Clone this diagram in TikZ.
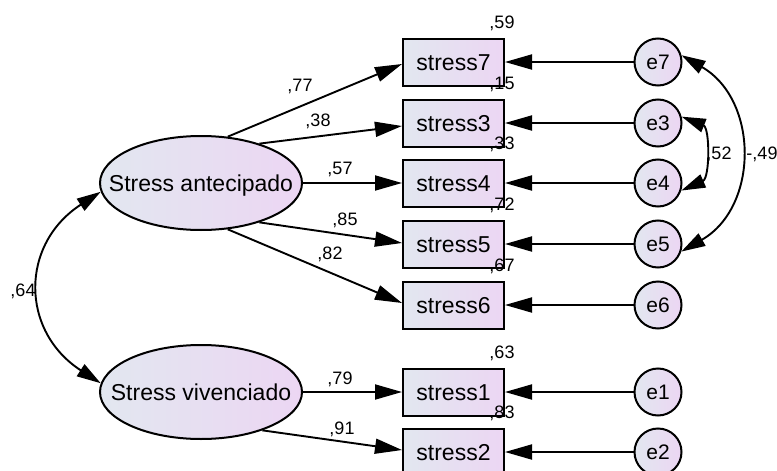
\documentclass[tikz,border=0pt]{standalone}
\usepackage{fontspec}
\setmainfont{Liberation Sans}
\usetikzlibrary{arrows.meta,shapes.geometric,calc}
\definecolor{gA}{RGB}{226,231,240}
\definecolor{gB}{RGB}{236,214,243}
\begin{document}
\begin{tikzpicture}[x=1pt,y=-1pt,
  shadefill/.style={left color=gA, right color=gB},
  lat/.style={ellipse, draw, line width=2pt, minimum width=202pt, minimum height=94pt, inner sep=0pt, shadefill,
    font=\fontsize{23}{27}\selectfont, text height=16.5pt, text depth=0pt},
  obs/.style={rectangle, draw, line width=2pt, minimum width=101pt, minimum height=47pt, inner sep=0pt, shadefill,
    font=\fontsize{23}{27}\selectfont, text height=16.5pt, text depth=0pt},
  err/.style={circle, draw, line width=2pt, minimum size=47pt, inner sep=0pt, shadefill,
    font=\fontsize{21}{25}\selectfont, text height=15pt, text depth=0pt},
  lbl/.style={font=\fontsize{18}{21}\selectfont, inner sep=0pt, text height=13pt, text depth=0pt},
  pth/.style={line width=1.9pt, -{Triangle[length=27pt,width=15pt]}},
  cov/.style={line width=1.9pt, {Triangle[length=24pt,width=14pt]}-{Triangle[length=24pt,width=14pt]}}
]
\useasboundingbox (0,0) rectangle (777,471);

% latent variables
\node[lat] (A) at (201,183) {\makebox[0pt]{Stress antecipado}};
\node[lat] (V) at (201,392) {\makebox[0pt]{Stress vivenciado}};

% observed
\node[obs] (s7) at (453.5,62) {stress7};
\node[obs] (s3) at (453.5,123) {stress3};
\node[obs] (s4) at (453.5,183) {stress4};
\node[obs] (s5) at (453.5,244) {stress5};
\node[obs] (s6) at (453.5,305) {stress6};
\node[obs] (s1) at (453.5,392) {stress1};
\node[obs] (s2) at (453.5,452) {stress2};

% errors
\node[err] (e7) at (658,62) {e7};
\node[err] (e3) at (658,123) {e3};
\node[err] (e4) at (658,183) {e4};
\node[err] (e5) at (658,244) {e5};
\node[err] (e6) at (658,305) {e6};
\node[err] (e1) at (658,392) {e1};
\node[err] (e2) at (658,452) {e2};

% error paths
\foreach \e/\s in {e7/s7,e3/s3,e4/s4,e5/s5,e6/s6,e1/s1,e2/s2}
  \draw[pth] (\e) -- (\s);

% loadings
\draw[pth] (A.60.5) -- ($(s7.west)+(0,2)$);
\draw[pth] (A.34) -- ($(s3.west)+(0,3)$);
\draw[pth] (A.east) -- (s4.west);
\draw[pth] (A.-34) -- ($(s5.west)+(0,-1)$);
\draw[pth] (A.-60.5) -- ($(s6.west)+(0,-2)$);
\draw[pth] (V.east) -- (s1.west);
\draw[pth] (V.-32) -- ($(s2.west)+(0,-2)$);

% covariances
\draw[cov] (A.185) .. controls (20,244) and (20,331) .. (V.175);
\draw[cov] (e7.16) .. controls (759,100) and (759,207) .. (e5.-18);
\draw[cov] (e3.15) .. controls (710,128) and (710,178) .. (e4.-18);

% loading labels
\node[lbl] (l77) at (300,85) {,77};
\node[lbl] (l38) at (318,120) {,38};
\node[lbl] (l57) at (340,168) {,57};
\node[lbl] (l85) at (345,219) {,85};
\node[lbl] (l82) at (330,253) {,82};
\node[lbl] (l79) at (340,378) {,79};
\node[lbl] (l91) at (342,428) {,91};
\node[lbl] (l64) at (23,290) {,64};
\node[lbl] (l52) at (719,153) {,52};
\node[lbl] (l49) at (762,153) {-,49};

% R squared labels
\node[lbl] (r7) at ($(s7.north east)+(-3,-16)$) {,59};
\node[lbl] (r3) at ($(s3.north east)+(-3,-16)$) {,15};
\node[lbl] (r4) at ($(s4.north east)+(-3,-16)$) {,33};
\node[lbl] (r5) at ($(s5.north east)+(-3,-16)$) {,72};
\node[lbl] (r6) at ($(s6.north east)+(-3,-16)$) {,67};
\node[lbl] (r1) at ($(s1.north east)+(-3,-16)$) {,63};
\node[lbl] (r2) at ($(s2.north east)+(-3,-16)$) {,83};
\end{tikzpicture}
\end{document}
